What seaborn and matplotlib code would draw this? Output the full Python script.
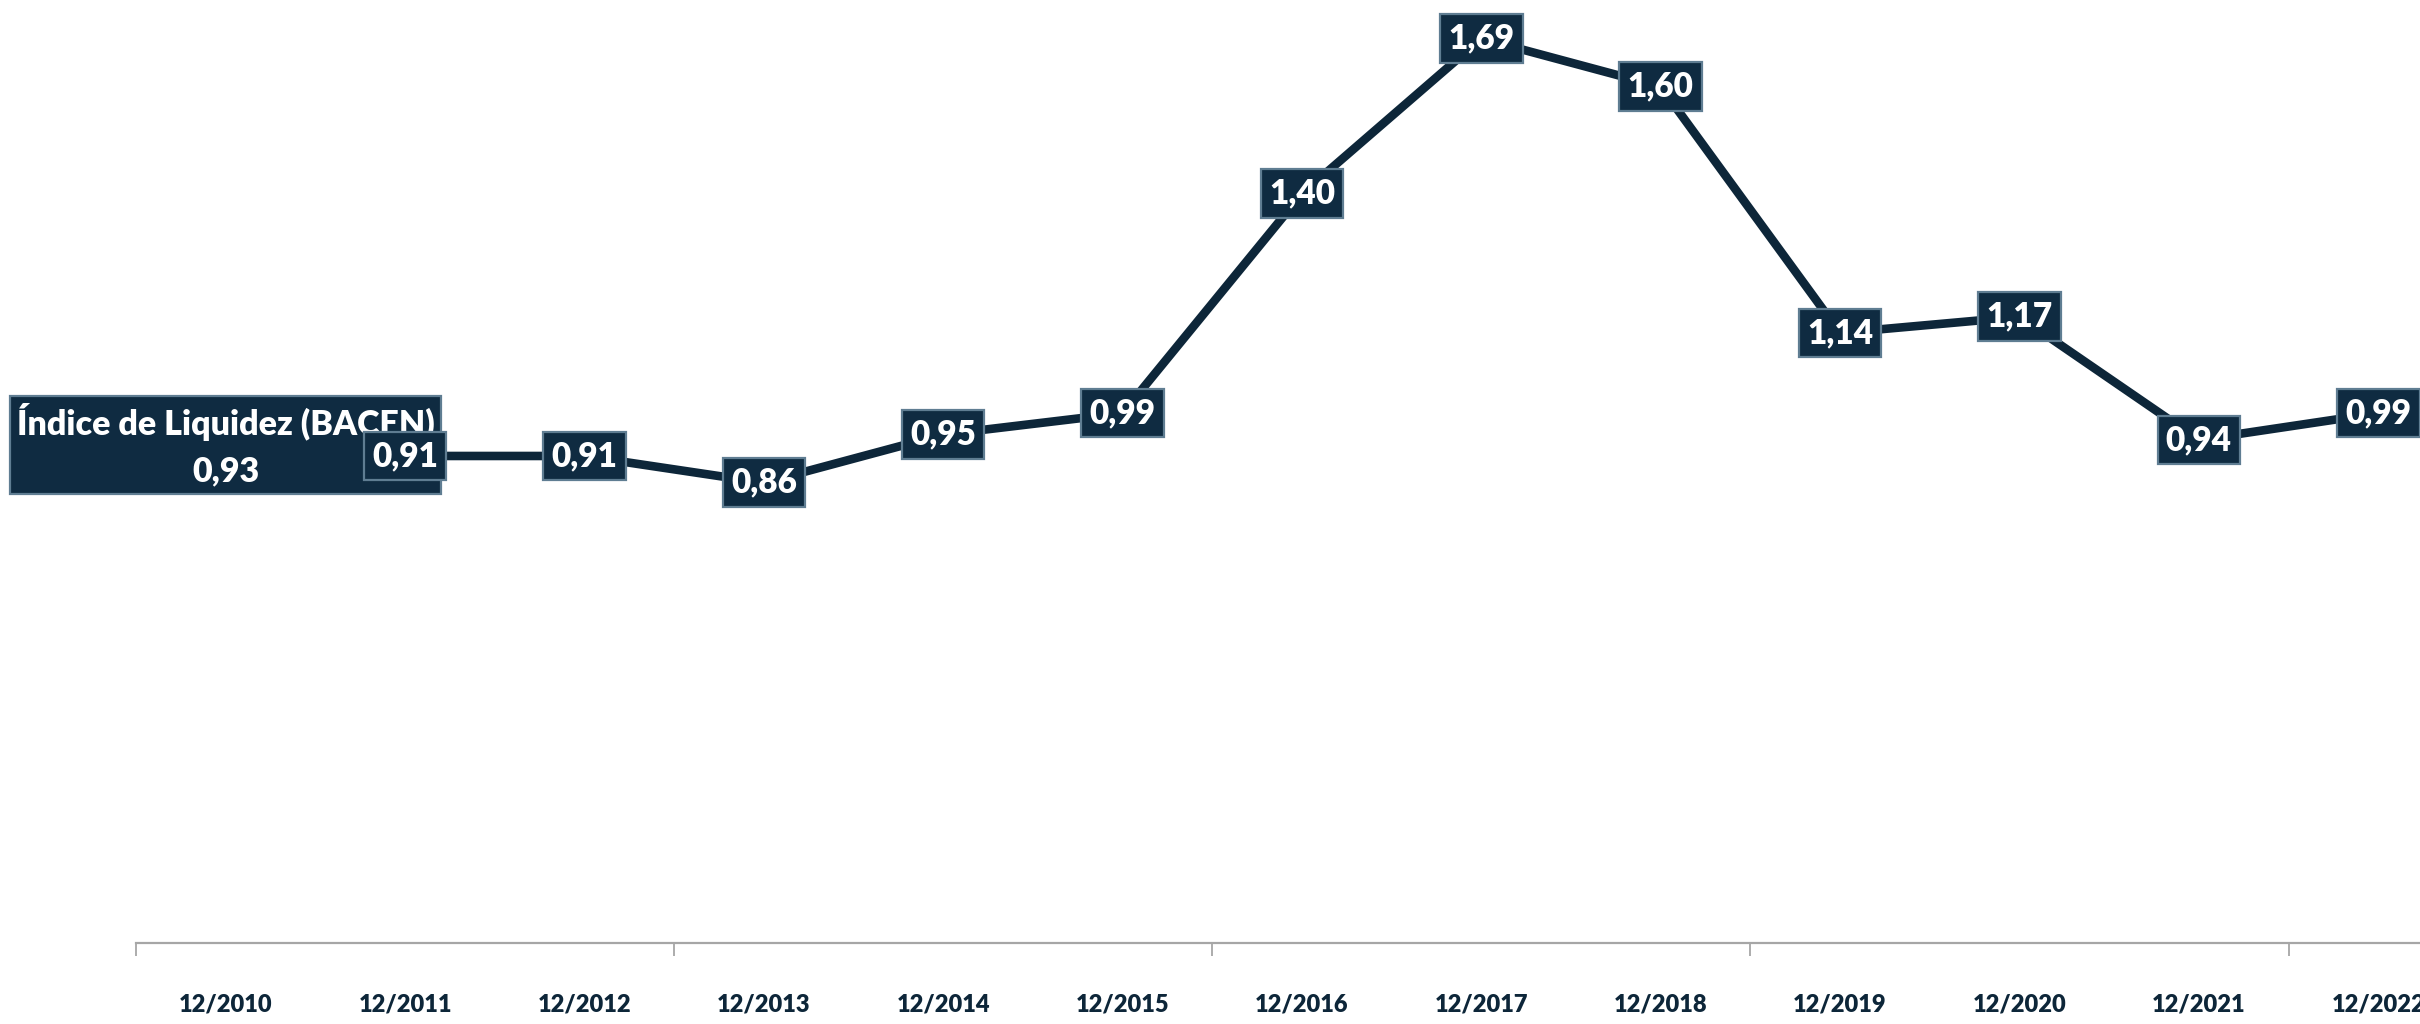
import pandas as pd
import seaborn as sns
import matplotlib.pyplot as plt

# dados do gráfico
periodos = ["12/2010", "12/2011", "12/2012", "12/2013", "12/2014", "12/2015", "12/2016",
            "12/2017", "12/2018", "12/2019", "12/2020", "12/2021", "12/2022"]
indice = [0.93, 0.91, 0.91, 0.86, 0.95, 0.99, 1.40, 1.69, 1.60, 1.14, 1.17, 0.94, 0.99]
serie = "Índice de Liquidez (BACEN)"

df = pd.DataFrame({"periodo": periodos, "indice": indice})
df["pos"] = range(len(df))

sns.set_style("white")
plt.rcParams["font.family"] = ["Lato", "DejaVu Sans"]

navy = "#0d2639"
box_fc = "#0f2b41"
box_ec = "#5f7d92"

fig = plt.figure(figsize=(24.2, 10.24), dpi=100)
ax = fig.add_axes([0.0562, 0.0791, 0.9636, 0.9209])

sns.lineplot(data=df, x="pos", y="indice", color=navy, linewidth=6.2, ax=ax, zorder=2)

ax.set_xlim(-0.5, len(df) - 0.5)
ax.set_ylim(0, 1.762)

# rótulos de dados
def fmt(v):
    return f"{v:.2f}".replace(".", ",")

for i, row in df.iterrows():
    if i == 0:
        txt = f"{serie}\n{fmt(row['indice'])}"
        pad, fs, ls = 0.2, 24.5, 1.55
    else:
        txt = fmt(row["indice"])
        pad, fs, ls = 0.25, 24, 1.2
    ax.annotate(txt, (row["pos"], row["indice"]), ha="center", va="center",
                color="white", fontsize=fs, fontweight="heavy", linespacing=ls,
                zorder=3 + i,
                bbox=dict(boxstyle=f"square,pad={pad}", fc=box_fc, ec=box_ec, lw=1.6))

# eixo x
ax.set_xticks([-0.5, 2.5, 5.5, 8.5, 11.5])
ax.set_xticklabels([])
ax.set_xticks(df["pos"], minor=True)
ax.set_xticklabels(periodos, minor=True, fontsize=17, fontweight="heavy", color=navy)
ax.tick_params(axis="x", which="major", bottom=True, length=9, width=1.3,
               color="#a6a6a6", direction="out")
ax.tick_params(axis="x", which="minor", bottom=True, length=0, pad=36)
ax.set_yticks([])
ax.set_xlabel("")
ax.set_ylabel("")

for s in ["left", "top", "right"]:
    ax.spines[s].set_visible(False)
ax.spines["bottom"].set_color("#a6a6a6")
ax.spines["bottom"].set_linewidth(1.6)

fig.savefig("out.png", dpi=100)
